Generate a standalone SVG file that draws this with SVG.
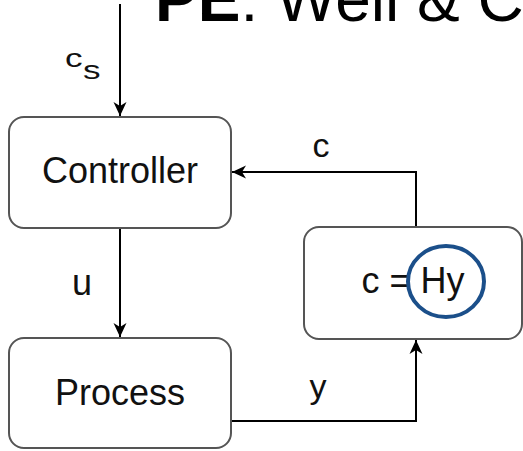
<svg xmlns="http://www.w3.org/2000/svg" width="523" height="451" viewBox="0 0 523 451">
<style>
.box{fill:#fff;stroke:#555;stroke-width:2}
.lbl{font-family:"Liberation Sans",Arial,sans-serif;font-size:36px;fill:#111;text-anchor:middle}
.edge{fill:none;stroke:#000;stroke-width:2}
</style>
<defs>
<marker id="arr" markerUnits="userSpaceOnUse" markerWidth="16" markerHeight="14" viewBox="0 -7 16 14" refX="14" refY="0" orient="auto">
<path d="M0,-6.5 L14,0 L0,6.5 L4,0 Z" fill="#000"/>
</marker>
</defs>
<rect width="523" height="451" fill="#fff"/>
<text x="155" y="21" font-family="'Liberation Sans',Arial,sans-serif" font-size="64" fill="#000"><tspan font-weight="bold">PE</tspan>: Well &amp; C</text>
<g id="connectors">
<path class="edge" d="M120,4 L120,116" marker-end="url(#arr)"/>
<path class="edge" d="M120,228 L120,337" marker-end="url(#arr)"/>
<path class="edge" d="M416,227 L416,172 L232,172" marker-end="url(#arr)"/>
<path class="edge" d="M231,421 L416,421 L416,340" marker-end="url(#arr)"/>
<text class="lbl" x="0" y="0" transform="translate(65,67) scale(1.3,0.95)" style="text-anchor:start;font-size:27px">c</text>
<text class="lbl" x="0" y="0" transform="translate(83,79) scale(1.3,0.95)" style="text-anchor:start;font-size:27px">s</text>
<text class="lbl" x="82" y="295">u</text>
<text class="lbl" x="321" y="157" style="font-size:34px">c</text>
<text class="lbl" x="318" y="398" style="font-size:34px">y</text>
</g>
<g id="controller">
<rect class="box" x="9" y="117" width="222" height="111" rx="15"/>
<text class="lbl" x="120" y="183">Controller</text>
</g>
<g id="process">
<rect class="box" x="9" y="338" width="222" height="110" rx="15"/>
<text class="lbl" x="120" y="405">Process</text>
</g>
<g id="measurement">
<rect class="box" x="304" y="227" width="218" height="112" rx="15"/>
<text class="lbl" x="413" y="293">c = Hy</text>
<ellipse cx="446" cy="281.5" rx="38" ry="35.5" fill="none" stroke="#1b4f8a" stroke-width="4"/>
</g>
</svg>
